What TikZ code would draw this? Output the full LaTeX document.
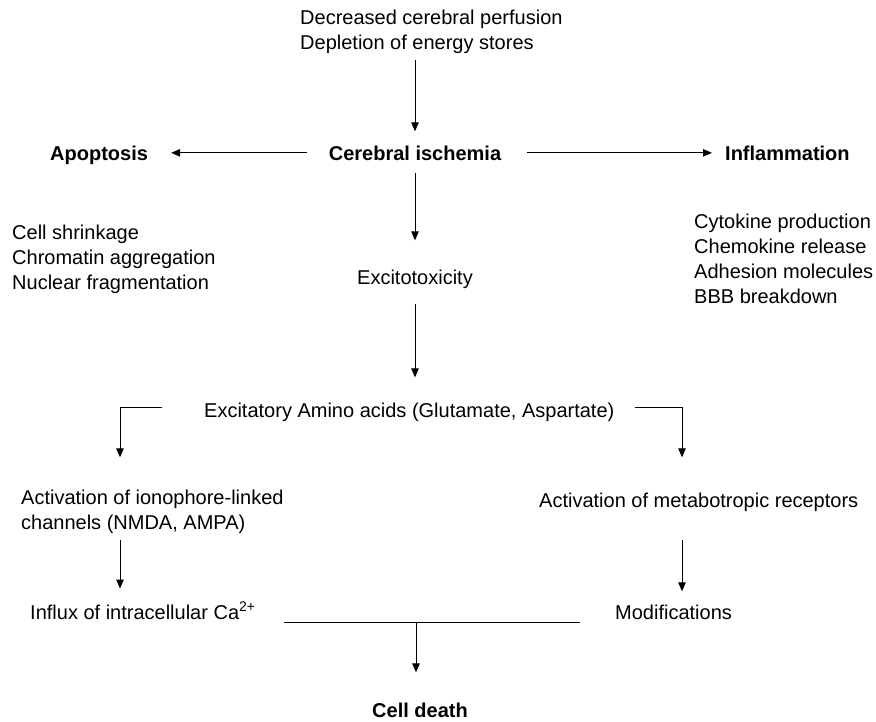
\documentclass[tikz,border=0pt]{standalone}
\usepackage{fontspec}
\setmainfont{Liberation Sans}
\usetikzlibrary{arrows.meta}
\begin{document}
\begin{tikzpicture}[x=1pt,y=-1pt,
  txt/.style={inner sep=0pt, align=left, font=\fontsize{20pt}{25pt}\selectfont},
  btxt/.style={inner sep=0pt, font=\fontsize{20pt}{25pt}\selectfont\bfseries},
  conn/.style={line width=1pt, draw=black},
  arr/.style={conn, -{Triangle[length=9pt,width=7.5pt]}}]
\useasboundingbox[fill=white] (0,0) rectangle (876,721);

% multi-line nodes: base anchor = baseline of the last line
\node[txt, anchor=base west] (top) at (300,49) {Decreased cerebral perfusion\\Depletion of energy stores};
\node[btxt, anchor=base] (isch) at (415,160) {Cerebral ischemia};
\node[btxt, anchor=base west] (apop) at (50,160) {Apoptosis};
\node[btxt, anchor=base west] (infl) at (725,160) {Inflammation};
\node[txt, anchor=base west] (apoplist) at (12,289) {Cell shrinkage\\Chromatin aggregation\\Nuclear fragmentation};
\node[txt, anchor=base west] (infllist) at (694,303) {Cytokine production\\Chemokine release\\Adhesion molecules\\BBB breakdown};
\node[txt, anchor=base] (excito) at (415,284) {Excitotoxicity};
\node[txt, anchor=base west] (eaa) at (204,417) {Excitatory Amino acids (Glutamate, Aspartate)};
\node[txt, anchor=base west] (iono) at (21,529) {Activation of ionophore-linked\\channels (NMDA, AMPA)};
\node[txt, anchor=base west] (metab) at (539,507) {Activation of metabotropic receptors};
\node[txt, anchor=base west] (influx) at (30,619) {Influx of intracellular Ca\textsuperscript{2+}};
\node[txt, anchor=base west] (modif) at (615,619) {Modifications};
\node[btxt, anchor=base] (death) at (420,717) {Cell death};

\coordinate (lc) at (120,0);
\coordinate (rc) at (682,0);
\coordinate (jn) at (416,622);

\draw[arr, shorten <=7pt, shorten >=14pt] (isch.north |- top.south) -- (isch.north);
\draw[arr, shorten <=22pt, shorten >=23pt] (isch.west) -- (isch.west -| apop.east);
\draw[arr, shorten <=26pt, shorten >=13pt] (isch.east) -- (isch.east -| infl.west);
\draw[arr, shorten <=13pt, shorten >=29pt] (isch.south) -- (excito.north);
\draw[arr, shorten <=16pt, shorten >=25pt] (excito.south) -- (excito.south |- eaa.north);
\draw[arr] ([shift={(-42pt,4pt)}]eaa.west) -| ([yshift=32pt]iono.north -| lc);
\draw[arr] ([shift={(20pt,4pt)}]eaa.east) -| ([yshift=35pt]metab.north -| rc);
\draw[arr, shorten <=7pt, shorten >=13pt] (iono.south -| lc) -- (influx.north -| lc);
\draw[arr, shorten <=29pt, shorten >=13pt] (metab.south -| rc) -- (modif.north -| rc);
\draw[conn] ([shift={(28pt,-3pt)}]influx.base east) -- ([shift={(-35pt,-3pt)}]modif.base west);
\draw[arr, shorten >=30pt] (jn) -- (jn |- death.north);
\end{tikzpicture}
\end{document}
